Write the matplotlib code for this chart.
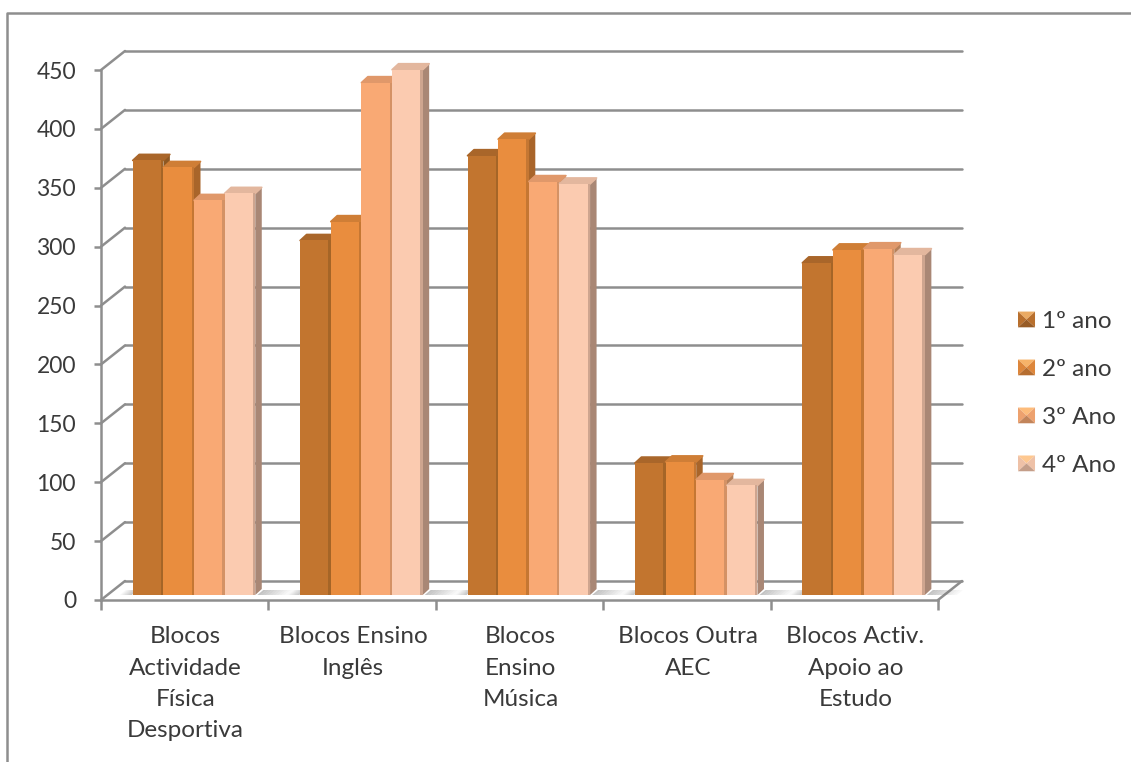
import matplotlib

matplotlib.use("Agg")
import matplotlib.pyplot as plt
import numpy as np
from matplotlib.legend_handler import HandlerBase
from matplotlib.lines import Line2D
from matplotlib.patches import Patch, Polygon
from matplotlib.transforms import ScaledTranslation

categorias = [
    "Blocos\nActividade\nFísica\nDesportiva",
    "Blocos Ensino\nInglês",
    "Blocos\nEnsino\nMúsica",
    "Blocos Outra\nAEC",
    "Blocos Activ.\nApoio ao\nEstudo",
]
ano_1 = [369, 301, 373, 112, 282]
ano_2 = [363, 317, 387, 113, 293]
ano_3 = [335, 435, 351, 98, 294]
ano_4 = [341, 446, 349, 93, 289]
series = [ano_1, ano_2, ano_3, ano_4]
nomes = ["1º ano", "2º ano", "3º Ano", "4º Ano"]
y_ticks = list(range(0, 451, 50))

cor_frente = ["#C2752F", "#E98D3E", "#F9A974", "#FBCBB0"]
cor_lado = ["#8E5822", "#A9652A", "#B68059", "#A98775"]
cor_topo = ["#A9662A", "#CF7E36", "#E0986A", "#E3B79E"]
cor_grelha = "#8E8E8E"
cor_texto = "#3A3A3A"

W, H = 1131, 762
DPI = 100
LARGURA = 0.183


class HandlerPiramide(HandlerBase):
    """Quadrado da legenda com quatro faces, como um bloco visto de cima."""

    def create_artists(self, legend, orig_handle, xdescent, ydescent, width, height, fontsize, trans):
        base = np.array(orig_handle.get_facecolor()[:3])
        x0, y0 = -xdescent, -ydescent
        x1, y1 = x0 + width, y0 + height
        c = ((x0 + x1) / 2, (y0 + y1) / 2)
        faces = [
            ([(x0, y1), (x1, y1), c], base * 0.35 + 0.65 * np.array([1.0, 0.78, 0.5])),
            ([(x0, y0), (x0, y1), c], base * 0.95),
            ([(x1, y0), (x1, y1), c], base * 0.95),
            ([(x0, y0), (x1, y0), c], base * 0.78),
        ]
        return [Polygon(v, closed=True, facecolor=cor, edgecolor="none", transform=trans) for v, cor in faces]


def desloca(fig, ax, dx_px, dy_px):
    return ax.transData + ScaledTranslation(dx_px / DPI, dy_px / DPI, fig.dpi_scale_trans)


def desenha_paredes(fig, ax):
    # Parede do fundo e linhas diagonais de cada marca do eixo
    fundo = desloca(fig, ax, 24, 19)
    xmin, xmax = ax.get_xlim()
    estilo = dict(color=cor_grelha, lw=1.8, solid_capstyle="round", clip_on=False, zorder=1)
    for v in y_ticks:
        ax.plot([xmin, xmax], [v, v], transform=fundo, **estilo)
        p0 = ax.transData.transform((xmin, v))
        p1 = fundo.transform((xmin, v))
        ax.plot([p0[0], p1[0]], [p0[1], p1[1]], transform=None, **estilo)
    p0 = ax.transData.transform((xmax, 0))
    p1 = fundo.transform((xmax, 0))
    ax.plot([p0[0], p1[0]], [p0[1], p1[1]], transform=None, **estilo)


def desenha_sombras(fig, ax, trans):
    # Sombra suave no chão, à direita e à esquerda de cada grupo
    for i in range(len(categorias)):
        dir_px = trans.transform((i + 2 * LARGURA, 0))
        esq_px = trans.transform((i - 2 * LARGURA, 0))
        for k in range(10):
            alfa = 0.42 * (1 - k / 10)
            for x, sinal, passo in ((dir_px[0] + 2, 1, 3.0), (esq_px[0] - 1, -1, 1.2)):
                xa = x + sinal * k * passo
                xb = xa + sinal * passo
                ax.add_patch(
                    Polygon(
                        [(xa, dir_px[1]), (xb, dir_px[1]), (xb + 6, dir_px[1] + 5), (xa + 6, dir_px[1] + 5)],
                        closed=True,
                        facecolor="#707070",
                        edgecolor="none",
                        alpha=alfa,
                        transform=None,
                        clip_on=False,
                        zorder=1.5,
                    )
                )


def desenha_barras(fig, ax, trans):
    # Cada bloco: lado e topo em profundidade, depois a face da frente
    prof = desloca(fig, ax, 9.3 + 6.5, 5 + 6)
    z = 2.0
    for j, valores in enumerate(series):
        for i, v in enumerate(valores):
            x0 = i + (j - 2) * LARGURA
            x1 = x0 + LARGURA
            frente = [trans.transform(p) for p in ((x0, v), (x1, v), (x1, 0))]
            tras = [prof.transform(p) for p in ((x0, v), (x1, v), (x1, 0))]
            ax.add_patch(
                Polygon(
                    [frente[1], tras[1], tras[2], frente[2]],
                    closed=True,
                    facecolor=cor_lado[j],
                    edgecolor="none",
                    transform=None,
                    clip_on=False,
                    zorder=z + i * 0.01,
                )
            )
            ax.add_patch(
                Polygon(
                    [frente[0], tras[0], tras[1], frente[1]],
                    closed=True,
                    facecolor=cor_topo[j],
                    edgecolor=cor_topo[j],
                    lw=1.2,
                    joinstyle="round",
                    transform=None,
                    clip_on=False,
                    zorder=z + i * 0.01,
                )
            )
        xs = np.arange(len(valores)) + (j - 1.5) * LARGURA
        ax.bar(xs, valores, LARGURA, color=cor_frente[j], transform=trans, clip_on=False, zorder=z + 0.1)
        # Faixa mais escura na aresta direita de cada face
        ax.bar(
            xs + LARGURA * 0.46,
            valores,
            LARGURA * 0.08,
            color=cor_lado[j],
            alpha=0.55,
            transform=trans,
            clip_on=False,
            zorder=z + 0.2,
        )
        z += 1


def main():
    plt.rcParams["font.family"] = ["Lato", "DejaVu Sans"]
    fig = plt.figure(figsize=(W / DPI, H / DPI), dpi=DPI, facecolor="white")
    ax = fig.add_axes([101 / W, 1 - 600 / H, (938 - 101) / W, (600 - 70) / H])
    ax.set_xlim(-0.5, 4.5)
    ax.set_ylim(0, 450)
    ax.patch.set_visible(False)

    for lado in ("top", "right"):
        ax.spines[lado].set_visible(False)
    for lado in ("left", "bottom"):
        ax.spines[lado].set_color(cor_grelha)
        ax.spines[lado].set_linewidth(1.8)
        ax.spines[lado].set_zorder(1)

    ax.set_yticks(y_ticks)
    ax.set_xticks(np.arange(-0.5, 5.0, 1.0))
    ax.set_xticklabels([])
    ax.set_xticks(np.arange(len(categorias)) + 0.006, categorias, minor=True)
    ax.tick_params(axis="y", length=5, width=1.8, color=cor_grelha, labelsize=16.5, labelcolor=cor_texto, pad=13)
    ax.tick_params(axis="x", which="major", length=7, width=1.8, color=cor_grelha)
    ax.tick_params(axis="x", which="minor", length=0, labelsize=17.5, labelcolor=cor_texto, pad=19)
    for rotulo in ax.get_xticklabels(minor=True):
        rotulo.set_linespacing(1.6)
        rotulo.set_verticalalignment("top")

    trans = desloca(fig, ax, 9.3, 5)
    desenha_paredes(fig, ax)
    desenha_sombras(fig, ax, trans)
    desenha_barras(fig, ax, trans)

    handles = [Patch(facecolor=c, label=n) for c, n in zip(cor_frente, nomes)]
    leg = fig.legend(
        handles=handles,
        loc="upper left",
        bbox_to_anchor=(1018 / W, 1 - 311 / H),
        frameon=False,
        fontsize=17.5,
        handlelength=0.7,
        handleheight=0.62,
        handletextpad=0.3,
        labelspacing=1.11,
        borderpad=0,
        borderaxespad=0,
        labelcolor=cor_texto,
        handler_map={Patch: HandlerPiramide()},
    )
    leg.set_zorder(10)

    # Moldura da área do gráfico: só o topo e o lado esquerdo ficam à vista
    x_m, y_m = 7 / W, 1 - 13 / H
    fig.add_artist(Line2D([x_m, x_m, 1.0], [0.0, y_m, y_m], color=cor_grelha, lw=1.8))

    fig.savefig("out.png", dpi=DPI)
    plt.close(fig)


if __name__ == "__main__":
    main()
